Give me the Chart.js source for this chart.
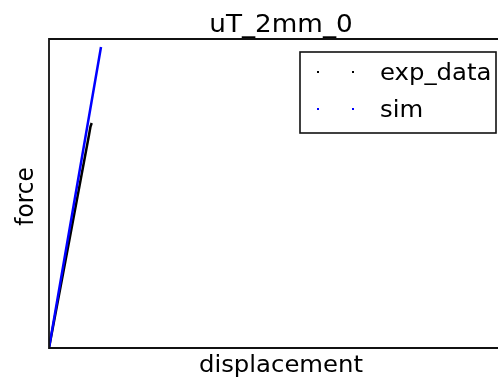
<!DOCTYPE html>
<html>
<head>
<meta charset="utf-8">
<script src="https://cdn.jsdelivr.net/npm/chart.js@4/dist/chart.umd.min.js"></script>
<style>
  html, body { margin: 0; padding: 0; background: #fff; }
  #wrap { width: 498px; height: 381px; overflow: hidden; position: relative; }
  canvas { display: block; }
</style>
</head>
<body>
<div id="wrap"><canvas id="c" width="516" height="381"></canvas></div>
<script>
// Measured displacement / force pairs for the specimen and the simulated response
const titleText = 'uT_2mm_0';
const xLabel = 'displacement';
const yLabel = 'force';
const seriesNames = ['exp_data', 'sim'];

const expDisp  = [0, 0.20, 0.40, 0.415, 0.427];
const expForce = [0, 1060, 2130, 2215, 2250];

const simDisp  = [0, 0.13, 0.26, 0.39, 0.52];
const simForce = [0, 752, 1505, 2258, 3010];

const xRange = [0, 4.64];
const yRange = [0, 3090];

const toPoints = (xs, ys) => xs.map((x, i) => ({ x: x, y: ys[i] }));

const FONT = '"DejaVu Sans", sans-serif';
const SX = 1.05; // horizontal text stretch

function drawText(ctx, text, x, y, size, align, rot) {
  ctx.save();
  ctx.translate(x, y);
  ctx.scale(SX, 1);
  if (rot) ctx.rotate(rot);
  ctx.font = size + 'px ' + FONT;
  ctx.fillStyle = '#000';
  ctx.textAlign = align;
  ctx.textBaseline = 'alphabetic';
  ctx.fillText(text, 0, 0);
  ctx.restore();
}

// Frame, title, axis labels and legend drawn on top of the plot
const decorations = {
  id: 'decorations',
  afterDraw(chart) {
    const ctx = chart.ctx;
    const a = chart.chartArea;
    ctx.save();
    ctx.strokeStyle = '#111';
    ctx.lineWidth = 1.8;
    ctx.beginPath();
    ctx.moveTo(a.right, a.top);
    ctx.lineTo(a.left, a.top);
    ctx.lineTo(a.left, a.bottom);
    ctx.lineTo(a.right, a.bottom);
    ctx.stroke();

    const cx = (a.left + a.right) / 2;
    drawText(ctx, titleText, cx, 32, 25, 'center', 0);
    drawText(ctx, xLabel, cx, 372, 23.2, 'center', 0);
    drawText(ctx, yLabel, 33, (a.top + a.bottom) / 2 + 3, 23.2, 'center', -Math.PI / 2);

    // legend box
    const lx = 300, ly = 52, lw = 196, lh = 81;
    ctx.fillStyle = '#fff';
    ctx.fillRect(lx, ly, lw, lh);
    ctx.strokeStyle = '#111';
    ctx.lineWidth = 1.6;
    ctx.strokeRect(lx, ly, lw, lh);
    const rows = [72, 109];
    chart.data.datasets.forEach((ds, i) => {
      ctx.fillStyle = ds.borderColor;
      [318, 353].forEach(px => ctx.fillRect(px - 1, rows[i] - 1, 2, 2));
      drawText(ctx, ds.label, 380, rows[i] + 8, 23.2, 'left', 0);
    });
    ctx.restore();
  }
};

new Chart(document.getElementById('c'), {
  type: 'scatter',
  data: {
    datasets: [
      {
        label: seriesNames[0],
        data: toPoints(expDisp, expForce),
        showLine: true,
        borderColor: '#000000',
        backgroundColor: '#000000',
        borderWidth: 2.5,
        pointRadius: 0,
        order: 1
      },
      {
        label: seriesNames[1],
        data: toPoints(simDisp, simForce),
        showLine: true,
        borderColor: '#0000ff',
        backgroundColor: '#0000ff',
        borderWidth: 2.5,
        pointRadius: 0,
        order: 0
      }
    ]
  },
  options: {
    responsive: false,
    animation: false,
    devicePixelRatio: 1,
    layout: { padding: { left: 49, top: 39, right: 3, bottom: 33 } },
    plugins: { legend: { display: false }, title: { display: false }, tooltip: { enabled: false } },
    scales: {
      x: { type: 'linear', min: xRange[0], max: xRange[1], display: false },
      y: { type: 'linear', min: yRange[0], max: yRange[1], display: false }
    }
  },
  plugins: [decorations]
});
</script>
</body>
</html>
